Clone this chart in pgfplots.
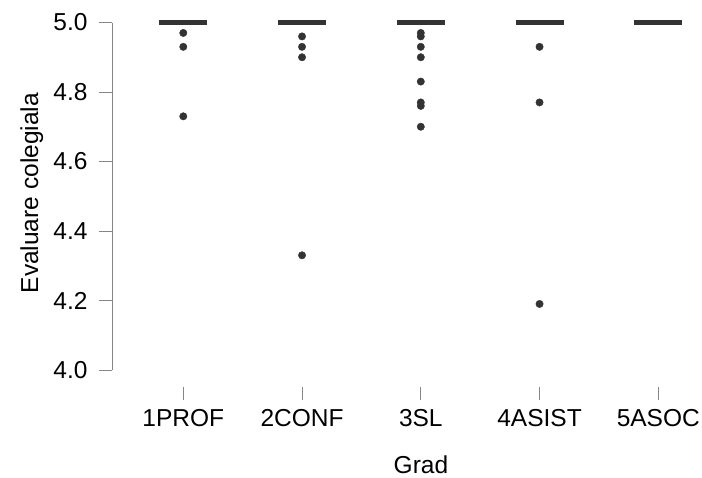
\documentclass[border=0pt]{standalone}
\usepackage{pgfplots}
\pgfplotsset{compat=1.18}
\usepackage{fontspec}
\setmainfont{Liberation Sans}
\definecolor{dk}{HTML}{333333}
\definecolor{ax}{HTML}{858585}
\begin{document}
\begin{tikzpicture}[font=\fontsize{24.5}{29}\selectfont]
\begin{axis}[
  at={(112pt,90pt)}, anchor=south west,
  scale only axis, width=590pt, height=377pt,
  xmin=0.3996, xmax=5.368, ymin=3.951, ymax=5.036,
  clip=false,
  axis lines*=left,
  axis line style={draw=none},
  tick align=outside,
  major tick length=13pt,
  tick style={color=ax, line width=0.8pt},
  xtick={1,2,3,4,5},
  xticklabels={1PROF,2CONF,3SL,4ASIST,5ASOC},
  ytick={4,4.2,4.4,4.6,4.8,5},
  /pgf/number format/assume math mode=true,
  yticklabel style={xshift=-8pt, /pgf/number format/.cd, fixed, fixed zerofill, precision=1},
  ticklabel style={font=\fontsize{24.5}{29}\selectfont, text=black},
  xticklabel style={yshift=-6pt},
  xlabel={Grad},
  ylabel={Evaluare colegiala},
  xlabel style={at={(axis description cs:0.5237,-0.2289)}, anchor=base, font=\fontsize{24.5}{29}\selectfont},
  ylabel style={at={(axis description cs:-0.1254,0.514)}, anchor=base, rotate=0, font=\fontsize{24.5}{29}\selectfont},
]
\draw[ax, line width=0.8pt] (axis cs:0.3996,4) -- (axis cs:0.3996,5);
% median lines (all quartiles at 5.0)
\addplot[dk, line width=5pt, line cap=butt] coordinates {(0.798,5) (1.202,5)};
\addplot[dk, line width=5pt, line cap=butt] coordinates {(1.798,5) (2.202,5)};
\addplot[dk, line width=5pt, line cap=butt] coordinates {(2.798,5) (3.202,5)};
\addplot[dk, line width=5pt, line cap=butt] coordinates {(3.798,5) (4.202,5)};
\addplot[dk, line width=5pt, line cap=butt] coordinates {(4.798,5) (5.202,5)};
% outliers
\addplot[only marks, mark=*, mark size=3.7pt, dk, mark options={draw=dk, fill=dk}] coordinates {
 (1,4.97) (1,4.93) (1,4.73)
 (2,4.96) (2,4.93) (2,4.90) (2,4.33)
 (3,4.97) (3,4.96) (3,4.93) (3,4.90) (3,4.83) (3,4.77) (3,4.76) (3,4.70)
 (4,4.93) (4,4.77) (4,4.19)
};
\end{axis}
\pgfresetboundingbox
\path[use as bounding box] (0,0) rectangle (702pt,477pt);
\end{tikzpicture}
\end{document}
